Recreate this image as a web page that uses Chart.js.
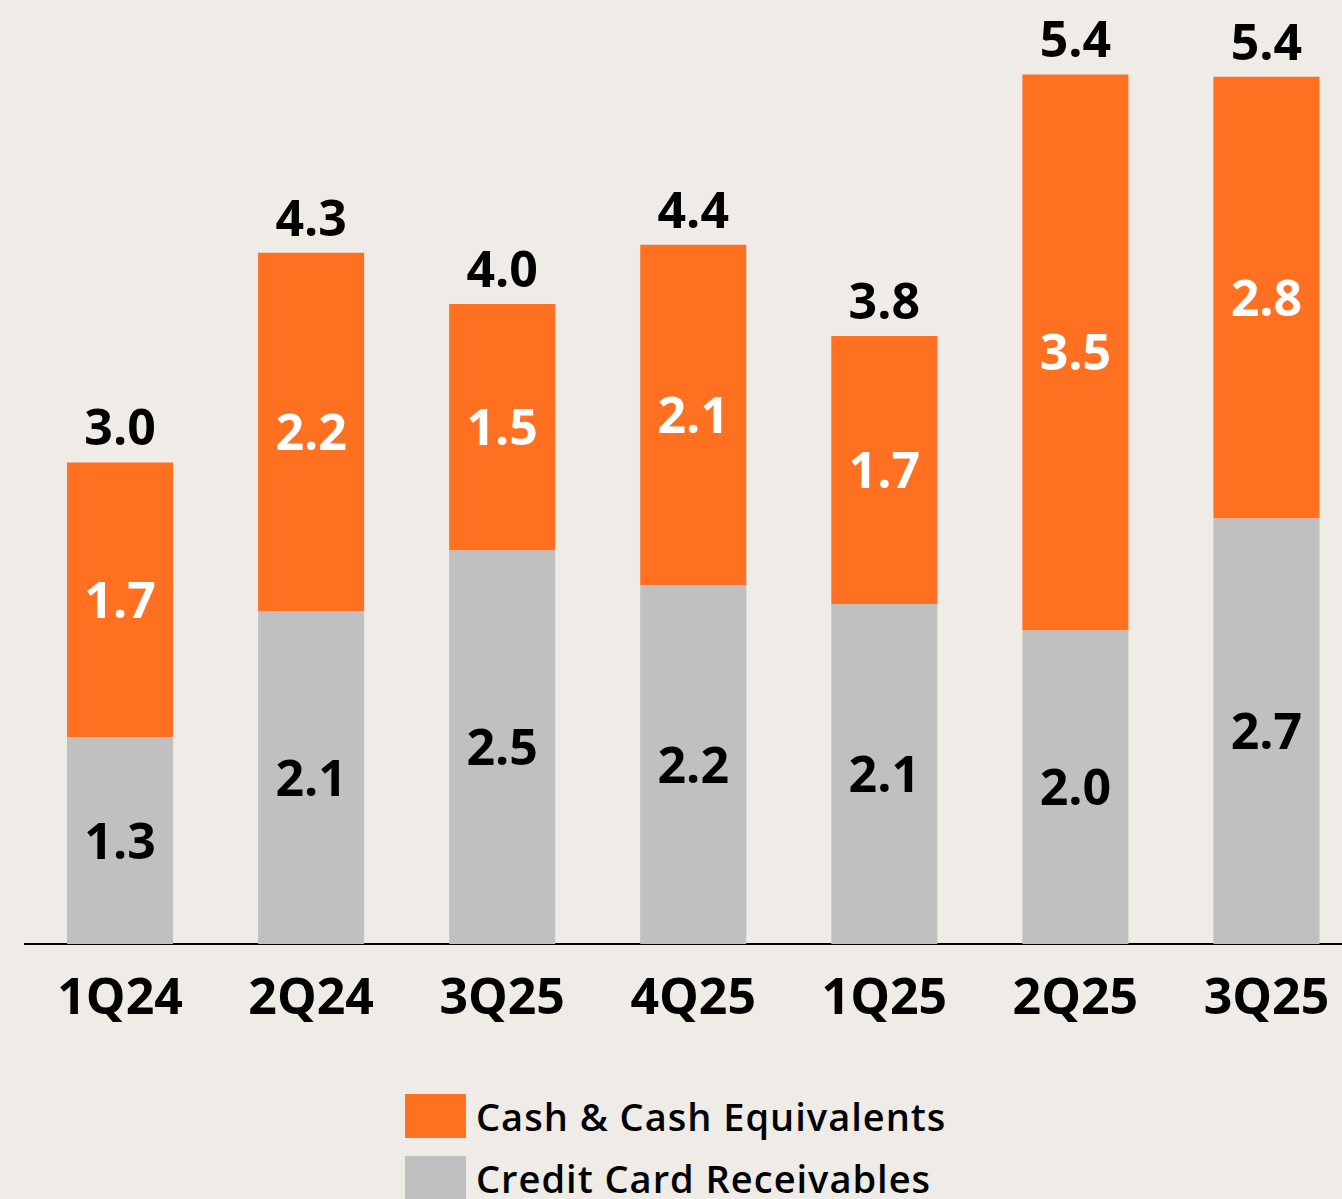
<!DOCTYPE html>
<html>
<head>
<meta charset="utf-8">
<script src="https://cdn.jsdelivr.net/npm/chart.js@4.4.1/dist/chart.umd.min.js"></script>
<style>
  html, body { margin: 0; padding: 0; background: #efebe7; overflow: hidden; }
  body { width: 1342px; height: 1199px; position: relative; font-family: "Open Sans", "Noto Sans", sans-serif; }
  #wrap { position: absolute; left: 0; top: 0; width: 1362px; height: 1060px; }
  .legend { position: absolute; left: 405px; top: 1094px; }
  .legend .item { display: flex; align-items: center; height: 44px; margin-bottom: 18px; }
  .legend .swatch { width: 61px; height: 44px; margin-right: 10px; }
  .legend .label { font-size: 38px; font-weight: 600; letter-spacing: 1px; color: #000; line-height: 44px; white-space: nowrap; }
</style>
</head>
<body>
<div id="wrap"><canvas id="chart-cash"></canvas></div>
<div class="legend">
  <div class="item"><div class="swatch" style="background:#ff7021"></div><div class="label">Cash &amp; Cash Equivalents</div></div>
  <div class="item"><div class="swatch" style="background:#c0c0c0"></div><div class="label">Credit Card Receivables</div></div>
</div>
<script>
// quarters and series
const quarters = ['1Q24', '2Q24', '3Q25', '4Q25', '1Q25', '2Q25', '3Q25'];
const receivables = [1.29, 2.08, 2.46, 2.24, 2.125, 1.96, 2.66];
const cashEquivalents = [1.72, 2.24, 1.54, 2.13, 1.675, 3.475, 2.76];

const ORANGE = '#ff7021';
const GRAY = '#c0c0c0';
const FONT = '"Open Sans", "Noto Sans", sans-serif';

// draws value labels inside segments and totals above bars
const barLabels = {
  id: 'barLabels',
  afterDatasetsDraw(chart) {
    const ctx = chart.ctx;
    const size = 50;
    ctx.save();
    ctx.font = 'bold ' + size + 'px ' + FONT;
    ctx.textAlign = 'center';
    ctx.textBaseline = 'alphabetic';
    chart.data.datasets.forEach((ds, i) => {
      const meta = chart.getDatasetMeta(i);
      meta.data.forEach((bar, j) => {
        const mid = (bar.y + bar.base) / 2;
        ctx.fillStyle = ds.labelColor;
        ctx.fillText(ds.data[j].toFixed(1), bar.x, mid + size * 0.36);
      });
    });
    const topMeta = chart.getDatasetMeta(chart.data.datasets.length - 1);
    topMeta.data.forEach((bar, j) => {
      const total = receivables[j] + cashEquivalents[j];
      ctx.fillStyle = '#000';
      ctx.fillText(total.toFixed(1), bar.x, bar.y - 17);
    });
    ctx.restore();
  }
};

new Chart(document.getElementById('chart-cash'), {
  type: 'bar',
  data: {
    labels: quarters,
    datasets: [
      { label: 'Credit Card Receivables', data: receivables, backgroundColor: GRAY, labelColor: '#000' },
      { label: 'Cash & Cash Equivalents', data: cashEquivalents, backgroundColor: ORANGE, labelColor: '#fff' }
    ]
  },
  options: {
    responsive: true,
    maintainAspectRatio: false,
    animation: false,
    layout: { padding: { left: 24.5, right: 0, top: 0, bottom: 0 } },
    datasets: { bar: { categoryPercentage: 0.555, barPercentage: 1, borderWidth: 0 } },
    plugins: { legend: { display: false }, tooltip: { enabled: false } },
    scales: {
      x: {
        stacked: true,
        grid: { display: false, drawTicks: false },
        border: { display: true, color: '#000', width: 2 },
        ticks: { color: '#000', padding: 26, font: { family: FONT, size: 50, weight: 'bold' } },
        afterFit: s => { s.height = 116; }
      },
      y: { stacked: true, display: false, min: 0, max: 5.9 }
    }
  },
  plugins: [barLabels]
});
</script>
</body>
</html>
